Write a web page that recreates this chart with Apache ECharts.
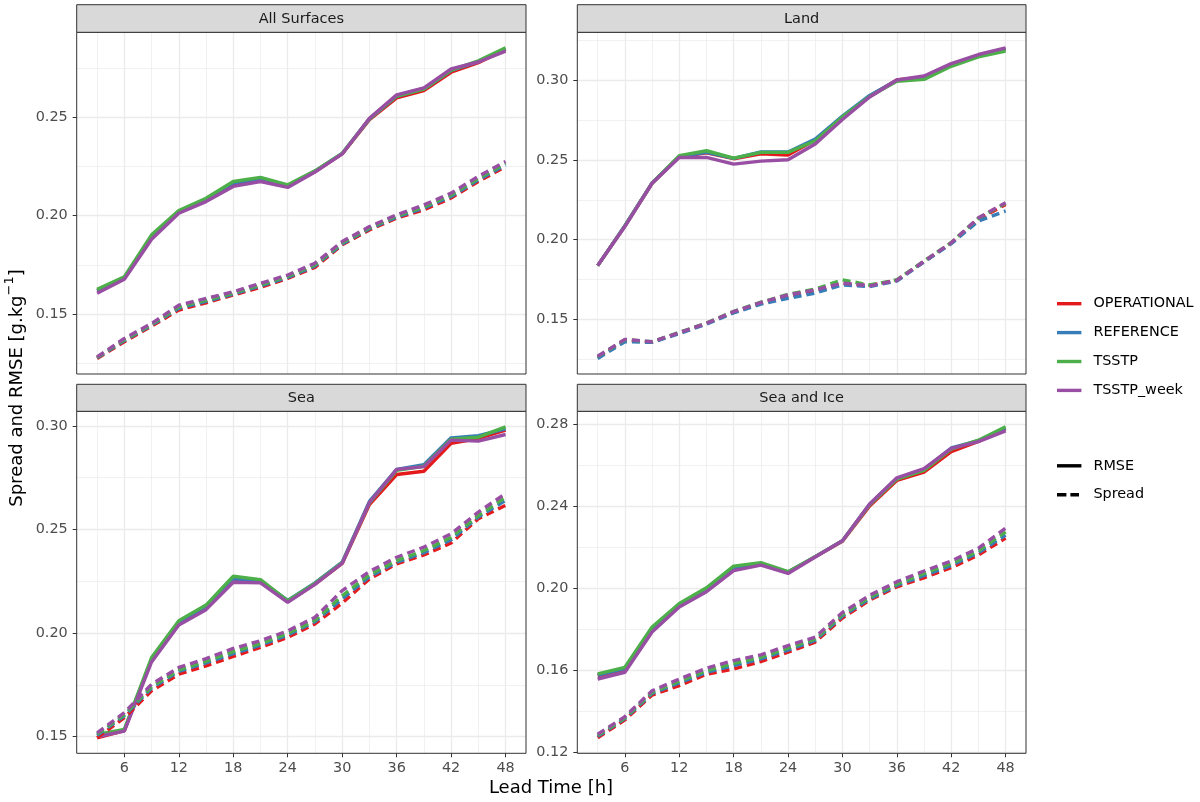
<!DOCTYPE html>
<html>
<head>
<meta charset="utf-8">
<script src="https://cdn.jsdelivr.net/npm/echarts@6/dist/echarts.min.js"></script>
<style>
  html, body { margin: 0; padding: 0; background: #fff; }
  #chart { width: 1200px; height: 802px; }
</style>
</head>
<body>
<div id="chart"></div>
<script>
  'use strict'
  /*----- data -----*/
  var leadTime = [3, 6, 9, 12, 15, 18, 21, 24, 27, 30, 33, 36, 39, 42, 45, 48];
  var models = ['OPERATIONAL', 'REFERENCE', 'TSSTP', 'TSSTP_week'];
  var panels = ['All Surfaces', 'Land', 'Sea', 'Sea and Ice'];
  var xTicks = [6, 12, 18, 24, 30, 36, 42, 48];
  var xMinorTicks = [3, 9, 15, 21, 27, 33, 39, 45];
  var yTicks = [
    [0.15, 0.20, 0.25],
    [0.15, 0.20, 0.25, 0.30],
    [0.15, 0.20, 0.25, 0.30],
    [0.12, 0.16, 0.20, 0.24, 0.28]
  ];
  var yMinorTicks = [
    [0.125, 0.175, 0.225, 0.275],
    [0.125, 0.175, 0.225, 0.275, 0.325],
    [0.125, 0.175, 0.225, 0.275],
    [0.14, 0.18, 0.22, 0.26]
  ];

  // rows: OPERATIONAL, REFERENCE, TSSTP, TSSTP_week
  var allSurfacesRmse = [
    [0.1618, 0.1684, 0.1893, 0.2020, 0.2080, 0.2162, 0.2186, 0.2151, 0.2224, 0.2314, 0.2488, 0.2599, 0.2636, 0.2729, 0.2778, 0.2845],
    [0.1620, 0.1686, 0.1896, 0.2022, 0.2083, 0.2166, 0.2189, 0.2153, 0.2226, 0.2316, 0.2492, 0.2607, 0.2644, 0.2738, 0.2783, 0.2848],
    [0.1626, 0.1690, 0.1903, 0.2027, 0.2089, 0.2174, 0.2195, 0.2157, 0.2228, 0.2317, 0.2493, 0.2608, 0.2643, 0.2740, 0.2787, 0.2853],
    [0.1606, 0.1677, 0.1881, 0.2013, 0.2072, 0.2149, 0.2174, 0.2144, 0.2222, 0.2314, 0.2495, 0.2614, 0.2650, 0.2746, 0.2781, 0.2836]
  ];
  var allSurfacesSpread = [
    [0.1275, 0.1360, 0.1439, 0.1521, 0.1558, 0.1597, 0.1636, 0.1682, 0.1738, 0.1852, 0.1928, 0.1988, 0.2030, 0.2090, 0.2174, 0.2250],
    [0.1278, 0.1366, 0.1444, 0.1530, 0.1565, 0.1602, 0.1643, 0.1687, 0.1745, 0.1857, 0.1934, 0.1993, 0.2039, 0.2098, 0.2182, 0.2258],
    [0.1281, 0.1371, 0.1448, 0.1537, 0.1572, 0.1608, 0.1649, 0.1693, 0.1751, 0.1863, 0.1939, 0.1999, 0.2046, 0.2106, 0.2190, 0.2266],
    [0.1283, 0.1377, 0.1453, 0.1546, 0.1580, 0.1614, 0.1657, 0.1699, 0.1759, 0.1869, 0.1945, 0.2005, 0.2055, 0.2115, 0.2200, 0.2276]
  ];
  var landRmse = [
    [0.1837, 0.2086, 0.2354, 0.2520, 0.2545, 0.2508, 0.2538, 0.2531, 0.2625, 0.2768, 0.2900, 0.3002, 0.3022, 0.3098, 0.3156, 0.3196],
    [0.1837, 0.2088, 0.2356, 0.2522, 0.2548, 0.2510, 0.2550, 0.2550, 0.2632, 0.2775, 0.2905, 0.3000, 0.3020, 0.3096, 0.3155, 0.3195],
    [0.1837, 0.2085, 0.2354, 0.2527, 0.2558, 0.2512, 0.2548, 0.2548, 0.2621, 0.2770, 0.2898, 0.2994, 0.3006, 0.3088, 0.3147, 0.3183],
    [0.1837, 0.2082, 0.2354, 0.2516, 0.2516, 0.2474, 0.2493, 0.2501, 0.2600, 0.2754, 0.2895, 0.3002, 0.3027, 0.3105, 0.3162, 0.3204]
  ];
  var landSpread = [
    [0.1262, 0.1368, 0.1357, 0.1414, 0.1473, 0.1545, 0.1600, 0.1645, 0.1678, 0.1725, 0.1712, 0.1745, 0.1862, 0.1978, 0.2130, 0.2220],
    [0.1254, 0.1359, 0.1355, 0.1410, 0.1470, 0.1540, 0.1595, 0.1632, 0.1664, 0.1716, 0.1705, 0.1740, 0.1860, 0.1975, 0.2116, 0.2180],
    [0.1266, 0.1372, 0.1360, 0.1418, 0.1477, 0.1550, 0.1607, 0.1657, 0.1690, 0.1748, 0.1715, 0.1748, 0.1866, 0.1982, 0.2135, 0.2228],
    [0.1268, 0.1374, 0.1359, 0.1416, 0.1475, 0.1548, 0.1605, 0.1653, 0.1685, 0.1727, 0.1710, 0.1744, 0.1864, 0.1980, 0.2137, 0.2232]
  ];
  var seaRmse = [
    [0.1495, 0.1530, 0.1870, 0.2048, 0.2122, 0.2255, 0.2248, 0.2152, 0.2236, 0.2336, 0.2620, 0.2765, 0.2781, 0.2915, 0.2939, 0.2979],
    [0.1505, 0.1532, 0.1875, 0.2052, 0.2128, 0.2262, 0.2252, 0.2158, 0.2242, 0.2342, 0.2635, 0.2790, 0.2812, 0.2942, 0.2952, 0.2985],
    [0.1511, 0.1535, 0.1882, 0.2060, 0.2135, 0.2274, 0.2258, 0.2156, 0.2240, 0.2340, 0.2628, 0.2785, 0.2805, 0.2935, 0.2945, 0.2995],
    [0.1500, 0.1527, 0.1861, 0.2039, 0.2113, 0.2245, 0.2242, 0.2148, 0.2235, 0.2337, 0.2630, 0.2790, 0.2803, 0.2931, 0.2926, 0.2958]
  ];
  var seaSpread = [
    [0.1495, 0.1592, 0.1721, 0.1802, 0.1842, 0.1887, 0.1931, 0.1979, 0.2044, 0.2145, 0.2261, 0.2334, 0.2377, 0.2435, 0.2552, 0.2616],
    [0.1507, 0.1601, 0.1735, 0.1815, 0.1856, 0.1901, 0.1942, 0.1990, 0.2055, 0.2165, 0.2272, 0.2342, 0.2388, 0.2450, 0.2560, 0.2640],
    [0.1512, 0.1607, 0.1742, 0.1822, 0.1864, 0.1911, 0.1950, 0.1998, 0.2062, 0.2180, 0.2282, 0.2350, 0.2398, 0.2462, 0.2568, 0.2655],
    [0.1519, 0.1616, 0.1753, 0.1834, 0.1877, 0.1926, 0.1963, 0.2011, 0.2076, 0.2205, 0.2297, 0.2366, 0.2415, 0.2479, 0.2584, 0.2673]
  ];
  var seaIceRmse = [
    [0.1575, 0.1607, 0.1800, 0.1918, 0.1993, 0.2097, 0.2119, 0.2078, 0.2154, 0.2230, 0.2402, 0.2526, 0.2567, 0.2666, 0.2716, 0.2778],
    [0.1578, 0.1610, 0.1805, 0.1922, 0.1997, 0.2102, 0.2122, 0.2080, 0.2155, 0.2232, 0.2410, 0.2535, 0.2580, 0.2684, 0.2720, 0.2780],
    [0.1584, 0.1616, 0.1812, 0.1927, 0.2003, 0.2109, 0.2126, 0.2082, 0.2155, 0.2232, 0.2408, 0.2533, 0.2575, 0.2678, 0.2722, 0.2787],
    [0.1559, 0.1592, 0.1788, 0.1910, 0.1984, 0.2087, 0.2114, 0.2073, 0.2153, 0.2232, 0.2411, 0.2539, 0.2584, 0.2682, 0.2715, 0.2767]
  ];
  var seaIceSpread = [
    [0.1273, 0.1360, 0.1481, 0.1527, 0.1582, 0.1608, 0.1644, 0.1690, 0.1739, 0.1856, 0.1943, 0.2008, 0.2052, 0.2101, 0.2163, 0.2245],
    [0.1280, 0.1366, 0.1489, 0.1540, 0.1592, 0.1624, 0.1657, 0.1700, 0.1747, 0.1865, 0.1950, 0.2015, 0.2063, 0.2112, 0.2174, 0.2260],
    [0.1285, 0.1370, 0.1495, 0.1548, 0.1600, 0.1635, 0.1665, 0.1710, 0.1754, 0.1873, 0.1958, 0.2022, 0.2073, 0.2122, 0.2183, 0.2276],
    [0.1290, 0.1376, 0.1502, 0.1559, 0.1612, 0.1649, 0.1677, 0.1722, 0.1763, 0.1883, 0.1967, 0.2033, 0.2085, 0.2134, 0.2196, 0.2294]
  ];

  var rmseData = [allSurfacesRmse, landRmse, seaRmse, seaIceRmse];
  var spreadData = [allSurfacesSpread, landSpread, seaSpread, seaIceSpread];

  /*----- layout -----*/
  var colors = ['#E41A1C', '#377EB8', '#4DAF4A', '#984EA3'];
  var boxes = [
    { left: 76.7, top: 32.3, width: 449.3, height: 341.7, stripTop: 4.7 },
    { left: 577.3, top: 32.3, width: 448.7, height: 341.7, stripTop: 4.7 },
    { left: 76.7, top: 411.3, width: 449.3, height: 342, stripTop: 384.3 },
    { left: 577.3, top: 411.3, width: 448.7, height: 342, stripTop: 384.3 }
  ];
  var gridColor = '#EBEBEB';
  var inkColor = '#333333';
  var labelColor = '#4D4D4D';
  var font = 'DejaVu Sans';
  var lineW = 3.4;
  var dash = [8, 5];

  var grids = [], xAxes = [], yAxes = [], series = [], graphics = [];

  boxes.forEach(function (b, i) {
    grids.push({
      left: b.left, top: b.top, width: b.width, height: b.height,
      show: true, z: 5, backgroundColor: 'transparent',
      borderColor: inkColor, borderWidth: 1
    });

    // ggplot style expansion: 5% of the data range on each side
    var all = [].concat.apply([], rmseData[i].concat(spreadData[i]));
    var lo = Math.min.apply(null, all), hi = Math.max.apply(null, all);
    var pad = (hi - lo) * 0.05;
    var bottomRow = i >= 2;

    xAxes[i] = {
      type: 'value', gridIndex: i, min: 0.75, max: 50.25,
      axisLine: { show: false },
      axisTick: { show: bottomRow, customValues: xTicks, length: 4, lineStyle: { color: inkColor } },
      axisLabel: { show: bottomRow, customValues: xTicks, color: labelColor, fontSize: 14.4, fontFamily: font, margin: 8 },
      splitLine: { show: true, lineStyle: { color: gridColor, width: 1.3 } }
    };
    xAxes[i + 4] = {
      type: 'value', gridIndex: i, min: 0.75, max: 50.25,
      axisLine: { show: false },
      axisTick: { show: false, customValues: xMinorTicks },
      axisLabel: { show: false },
      splitLine: { show: true, lineStyle: { color: gridColor, width: 0.7 } }
    };
    yAxes[i] = {
      type: 'value', gridIndex: i, min: lo - pad, max: hi + pad,
      axisLine: { show: false },
      axisTick: { show: true, customValues: yTicks[i], length: 4, lineStyle: { color: inkColor } },
      axisLabel: {
        customValues: yTicks[i], color: labelColor, fontSize: 14.4, fontFamily: font, margin: 9,
        formatter: function (v) { return v.toFixed(2); }
      },
      splitLine: { show: true, lineStyle: { color: gridColor, width: 1.3 } }
    };
    yAxes[i + 4] = {
      type: 'value', gridIndex: i, min: lo - pad, max: hi + pad,
      axisLine: { show: false },
      axisTick: { show: false, customValues: yMinorTicks[i] },
      axisLabel: { show: false },
      splitLine: { show: true, lineStyle: { color: gridColor, width: 0.7 } }
    };

    [rmseData[i], spreadData[i]].forEach(function (block, k) {
      block.forEach(function (vals, m) {
        series.push({
          type: 'line',
          name: models[m],
          xAxisIndex: i, yAxisIndex: i,
          data: leadTime.map(function (t, j) { return [t, vals[j]]; }),
          symbol: 'none',
          silent: true,
          lineStyle: { color: colors[m], width: lineW, type: k === 0 ? 'solid' : dash },
          itemStyle: { color: colors[m] },
          z: 2
        });
      });
    });

    // facet strip
    graphics.push({
      type: 'rect', silent: true, z: 10,
      shape: { x: b.left, y: b.stripTop, width: b.width, height: b.top - b.stripTop },
      style: { fill: '#D9D9D9', stroke: inkColor, lineWidth: 1 }
    });
    graphics.push({
      type: 'text', silent: true, z: 11,
      x: b.left + b.width / 2, y: (b.stripTop + b.top) / 2 + 0.5,
      style: {
        text: panels[i], fill: '#1A1A1A', font: '14.5px "DejaVu Sans"',
        align: 'center', verticalAlign: 'middle'
      }
    });
  });

  // legend-only series for the line type key
  series.push({
    type: 'line', name: 'RMSE', xAxisIndex: 0, yAxisIndex: 0, data: [], symbol: 'none',
    lineStyle: { color: '#000', width: lineW }, itemStyle: { color: '#000' }
  });
  series.push({
    type: 'line', name: 'Spread', xAxisIndex: 0, yAxisIndex: 0, data: [], symbol: 'none',
    lineStyle: { color: '#000', width: lineW, type: dash }, itemStyle: { color: '#000' }
  });

  graphics.push({
    type: 'text', silent: true,
    x: 551, y: 788,
    style: { text: 'Lead Time [h]', fill: '#000', font: '18px "DejaVu Sans"', align: 'center', verticalAlign: 'middle' }
  });
  graphics.push({
    type: 'text', silent: true,
    x: 17, y: 388, rotation: Math.PI / 2,
    style: {
      text: '{a|Spread and RMSE [g.kg}{b|\u22121}{a|]}',
      fill: '#000', align: 'center', verticalAlign: 'middle',
      rich: {
        a: { fontSize: 18, fontFamily: font, lineHeight: 28, fill: '#000' },
        b: { fontSize: 13, fontFamily: font, lineHeight: 28, verticalAlign: 'top', fill: '#000' }
      }
    }
  });

  var legendBase = {
    orient: 'vertical', left: 1057, itemWidth: 24.4, itemHeight: 3.4, itemGap: 14.9, padding: 0,
    selectedMode: false,
    itemStyle: { borderWidth: 0 },
    textStyle: { fontSize: 14.4, color: '#000', fontFamily: font, padding: [0, 0, 0, 7] }
  };
  var solidKey = 'rect';
  var dashedKey = 'path://M0,0H9.4V3.4H0Z M13.4,0H22V3.4H13.4Z M24.4,3.4L24.4,3.4';

  var option = {
    animation: false,
    textStyle: { fontFamily: font },
    grid: grids,
    xAxis: xAxes,
    yAxis: yAxes,
    legend: [
      Object.assign({}, legendBase, {
        top: 296.7,
        data: models.map(function (m) { return { name: m, icon: solidKey }; })
      }),
      Object.assign({}, legendBase, {
        top: 458.8,
        data: [{ name: 'RMSE', icon: solidKey }, { name: 'Spread', icon: dashedKey }]
      })
    ],
    graphic: graphics,
    series: series
  };

  var chart = echarts.init(document.getElementById('chart'));
  chart.setOption(option);
</script>
</body>
</html>
